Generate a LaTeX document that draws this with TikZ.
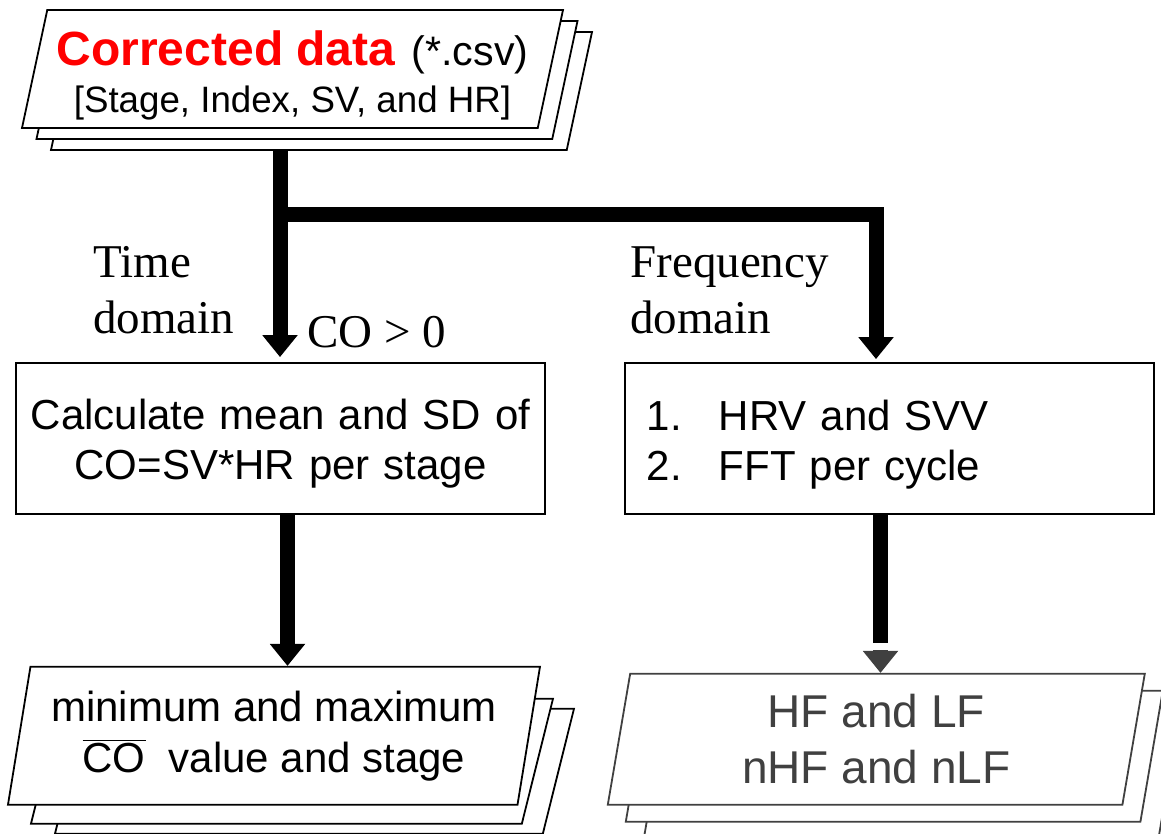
\documentclass[tikz,border=0pt]{standalone}
\usepackage{fontspec}
\setmainfont{Liberation Sans}
\newfontfamily\serifcaption{Liberation Serif}
\usepackage{xcolor}
\definecolor{csvred}{HTML}{FF0000}
\definecolor{bandgray}{HTML}{404040}
\usepackage{tikz}
\usetikzlibrary{arrows.meta,positioning,shapes.geometric,shadows,backgrounds}
\tikzset{
  hrvdoc/.style={trapezium,trapezium left angle=76,trapezium right angle=104,trapezium stretches body,draw,fill=white,line width=0.9pt,inner sep=0pt,align=center},
  hrvstack/.style n args={3}{
    copy shadow={shadow xshift=2*#1,shadow yshift=-2*#2,fill=white,draw=#3,line width=0.9pt},
    copy shadow={shadow xshift=#1,shadow yshift=-#2,fill=white,draw=#3,line width=0.9pt}},
  hrvsheet/.style={hrvdoc,inner xsep=0pt,inner ysep=31.25pt},
  hrvbox/.style={draw,fill=white,line width=0.9pt,minimum height=75.5pt,text width=242.5pt,inner xsep=11pt,inner ysep=0pt,font=\fontsize{21}{25}\selectfont},
  hrvbar/.style={line width=7.5pt,line join=miter},
  hrvflow/.style={hrvbar,-{Triangle[length=11pt,width=17pt]}},
  hrvlabel/.style={font=\serifcaption\fontsize{23.5}{28}\selectfont,align=left,inner sep=0pt},
}
% first-line strut, pushes a block of lines down inside its box
\newcommand{\hrvtop}[1]{\rule{0pt}{#1}}
\begin{document}
\begin{tikzpicture}[x=0.5pt,y=-0.5pt]
\useasboundingbox (0,0) rectangle (1161,834);
% input file
\node[hrvdoc,hrvstack={7.25pt}{5.5pt}{black},minimum width=270.5pt,minimum height=59pt,font=\fontsize{18.35}{23.5}\selectfont] (cd) at (292.5,69)
  {\hrvtop{23.35pt}{\color{csvred}\bfseries\fontsize{24}{23.5}\selectfont Corrected data}\hspace{3pt} {\fontsize{20.6}{23.5}\selectfont(*.csv)}\\\relax[Stage, Index, SV, and HR]};
% processing
\node[hrvbox,align=center,text width=258pt,inner xsep=3.25pt] (cm) at (280.5,438.5)
  {\hrvtop{19.95pt}Calculate mean and SD of\\CO=SV*HR per stage};
\node[hrvbox,align=left,right=39pt of cm] (hr)
  {\hrvtop{20.95pt}\makebox[36pt][l]{1.}HRV and SVV\\\makebox[36pt][l]{2.}FFT per cycle};
% results
\node[hrvdoc,minimum width=266pt,minimum height=69pt,font=\fontsize{21}{25.5}\selectfont,below=75.5pt of cm,xshift=-3.25pt] (mm)
  {minimum and maximum\\$\overline{\mathrm{CO}}$\ \ value and stage};
\node[hrvdoc,hrvstack={9pt}{8.5pt}{bandgray},minimum width=268.5pt,minimum height=65.5pt,font=\fontsize{23}{28}\selectfont,text=bandgray,draw=bandgray,below=79pt of hr,xshift=-6.5pt] (hf)
  {HF and LF\\nHF and nLF};
% branch labels
\node[hrvlabel,anchor=north west] (td) at (93,246) {Time\\domain};
\node[hrvlabel,anchor=north west] (fd) at (630,246) {Frequency\\domain};
\node[hrvlabel,anchor=base west] (cz) at (307,347) {CO > 0};
% connectors
\coordinate (split) at (280,214.5);
\coordinate (lcol) at (287.5,0);
\coordinate (rcol) at (880.5,0);
\coordinate (fcol) at (876,0);
\coordinate (hfcut) at (880.5,643);
\begin{scope}[on background layer]
% sheets behind the min/max output
\node[hrvsheet,minimum width=259.5pt,xshift=20.25pt,yshift=-17.75pt] (mm3) at (mm.center) {};
\node[hrvsheet,minimum width=261pt,xshift=9pt,yshift=-12.75pt] (mm2) at (mm.center) {};
\draw[hrvflow,shorten >=2.5pt] (cd.south -| split) -- (cm.north -| split);
\draw[hrvflow,shorten >=1.5pt] (split) -| (hr.north -| fcol);
\draw[hrvflow] (cm.south -| lcol) -- (mm.north -| lcol);
\draw[hrvbar] (hr.south -| rcol) -- (hfcut);
\draw[hrvflow,bandgray,shorten <=3.5pt] (hfcut) -- (hf.north -| rcol);
\end{scope}
\end{tikzpicture}
\end{document}
